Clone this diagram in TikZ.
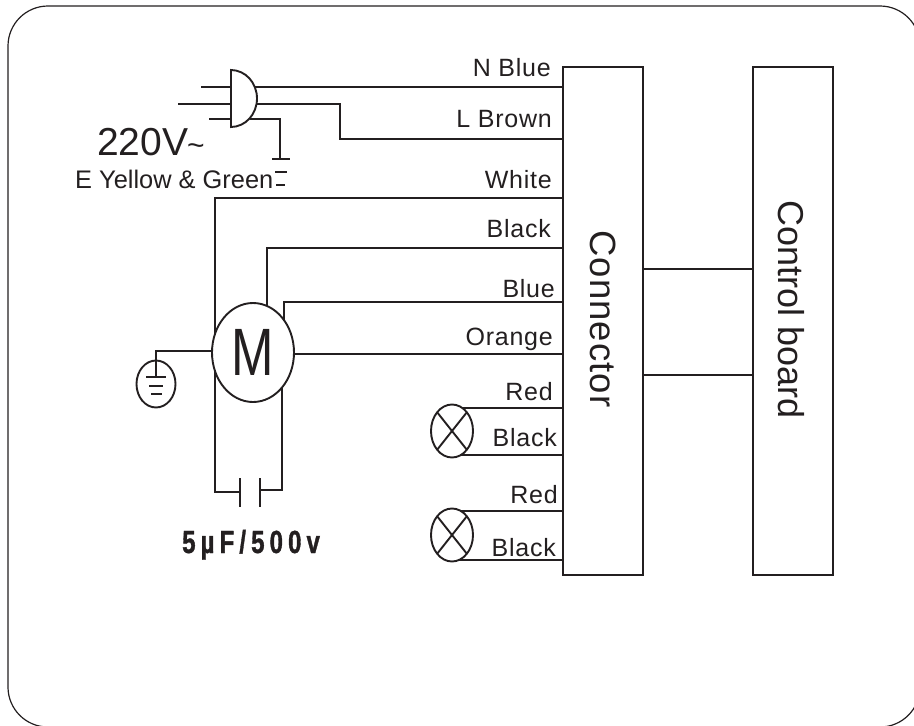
\documentclass[tikz,border=0pt]{standalone}
\usepackage{fontspec}
\setmainfont{Liberation Sans}
\newfontfamily\wirefont[LetterSpace=3]{Liberation Sans}
\newfontfamily\motorfont[FakeStretch=0.76]{Liberation Sans}
\newfontfamily\capfont[LetterSpace=16,FakeStretch=0.75,FakeBold=1]{Liberation Sans Bold}
\usetikzlibrary{positioning}
\usetikzlibrary{shapes.geometric}
\definecolor{inkline}{HTML}{231F20}

\tikzset{
  wire/.style={draw=inkline, line width=1.9pt},
  wirelabel/.style={anchor=base east, inner sep=0pt, text=inkline, font=\fontsize{25}{25}\selectfont\wirefont},
  blockbox/.style={draw=inkline, line width=2.2pt, outer sep=0pt, minimum width=80pt, minimum height=508pt, inner sep=0pt},
  blocktext/.style={rotate=-90, anchor=base west, inner sep=0pt, text=inkline},
  roundpart/.style={draw=inkline, line width=1.9pt, ellipse, outer sep=0pt, inner sep=0pt},
  lamp/.style={roundpart, minimum width=42pt, minimum height=53pt},
}

\begin{document}
\begin{tikzpicture}[x=1pt, y=-1pt]

  \useasboundingbox (0,0) rectangle (914,726);
  \clip (0,0) rectangle (914,726);

  % Frame
  \draw[inkline, line width=1.2pt, rounded corners=40pt] (8,6) rectangle (920,727);

  % Define blocks
  \node[blockbox] (connector) at (603,321) {};
  \node[blockbox, right=110pt of connector] (board) {};
  \node[blocktext, font=\fontsize{36.5}{37}\selectfont\wirefont] (connectortext) at (590,230) {Connector};
  \node[blocktext, font=\fontsize{36}{36}\selectfont] (boardtext) at (778,200) {Control board};

  % Define parts
  \node[roundpart, text=inkline, minimum width=82pt, minimum height=99pt, font=\fontsize{67}{67}\selectfont\motorfont] (motor) at (253,352.5) {M};
  \node[roundpart, minimum width=39pt, minimum height=47pt] (ground) at (156,384) {};
  \node[lamp] (lampa) at (452,431) {};
  \node[lamp, below=51pt of lampa] (lampb) {};

  % Free ends
  \coordinate (pinn) at (201,87);
  \coordinate (pinl) at (178,104);
  \coordinate (pine) at (209,119);
  \coordinate (platel) at (240,492);
  \coordinate (plater) at (260,490);
  \coordinate (barm) at (156,377);

  % Plug
  \draw[wire] (pinn) -- (231,87);
  \draw[wire] (pinl) -- (231,104);
  \draw[wire] (pine) -- (231,119);
  \draw[wire, fill=white] (231,70) arc[start angle=-90, end angle=90, x radius=26, y radius=28.5] -- cycle;
  \draw[wire] (254,87) -- (connector.west |- 0,87);
  \draw[wire] (257,104) -| (340,139) -- (connector.west |- 0,139);
  \draw[wire] (250,119) -| (280,159);
  \draw[wire] (272,159) -- (290,159);
  \draw[wire] (275,172) -- (287,172);
  \draw[wire] (276,185) -- (285,185);

  % Motor wires
  \draw[wire] (connector.west |- 0,198) -| (motor.154);
  \draw[wire] (motor.206) |- (platel);
  \draw[wire] (connector.west |- 0,248) -| (motor.73);
  \draw[wire] (connector.west |- 0,302) -| (motor.46);
  \draw[wire] (motor.-2) -- (motor.-2 -| connector.west);
  \draw[wire] (plater) -| (motor.-50);
  \draw[wire] (240,478) -- (240,507);
  \draw[wire] (260,478) -- (260,507);

  % Ground
  \draw[wire] (motor.178) -| (barm);
  \draw[wire] (146,377) -- (166,377);
  \draw[wire] (149,386) -- (163,386);
  \draw[wire] (151,394) -- (162,394);

  % Lamps
  \draw[wire] (lampa.66) -- (lampa.66 -| connector.west);
  \draw[wire] (lampa.-70) -- (lampa.-70 -| connector.west);
  \draw[wire] (lampb.70) -- (lampb.70 -| connector.west);
  \draw[wire] (lampb.-74) -- (lampb.-74 -| connector.west);
  \foreach \lampname in {lampa, lampb} {
    \draw[wire] (\lampname.north west) -- (\lampname.south east);
    \draw[wire] (\lampname.north east) -- (\lampname.south west);
  }

  % Links
  \draw[wire] (connector.east |- 0,269) -- (board.west |- 0,269);
  \draw[wire] (connector.east |- 0,375) -- (board.west |- 0,375);

  % Labels
  \node[wirelabel] (nblue) at (551,76) {N Blue};
  \node[wirelabel] (lbrown) at (552,127) {L Brown};
  \node[wirelabel] (white) at (552,188) {White};
  \node[wirelabel] (blacka) at (551,237) {Black};
  \node[wirelabel] (blue) at (555,297) {Blue};
  \node[wirelabel] (orange) at (553,345) {Orange};
  \node[wirelabel] (reda) at (553,400) {Red};
  \node[wirelabel] (blackb) at (557,446) {Black};
  \node[wirelabel] (redb) at (558,503) {Red};
  \node[wirelabel] (blackc) at (556,556) {Black};
  \node[wirelabel, anchor=base west, font=\fontsize{39}{39}\selectfont] (volts) at (97,155) {220V};
  \node[wirelabel, anchor=base west, font=\fontsize{30}{30}\selectfont] (tilde) at (187,155) {\char`~};
  \node[wirelabel, anchor=base west, font=\fontsize{25.4}{25}\selectfont] (earth) at (75,188) {E Yellow \& Green};
  \node[wirelabel, anchor=base west, font=\fontsize{32}{32}\selectfont\capfont] (cap) at (182,553) {5µF/500v};

\end{tikzpicture}
\end{document}
